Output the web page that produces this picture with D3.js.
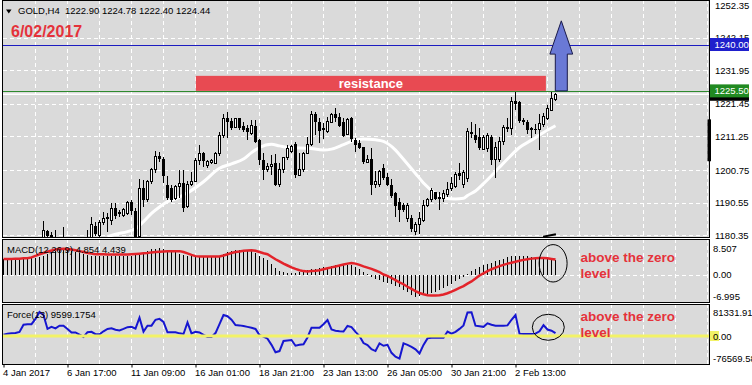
<!DOCTYPE html>
<html>
<head>
<meta charset="utf-8">
<script src="https://cdn.jsdelivr.net/npm/d3@7"></script>
<style>
  body { margin: 0; background: #fff; }
  svg { display: block; }
  text { font-family: "Liberation Sans", Arial, sans-serif; }
</style>
</head>
<body>
<div id="chart"></div>
<script>

// GOLD H4 candles (bar 0 = 4 Jan 2017 01:00)
const opens = [
  1158.5,1162.4,1164.1,1163.5,1166.6,1168.0,1171.8,1170.6,1174.1,1177.2,
  1178.0,1181.7,1180.45,1178.9,1177.3,1175.1,1177.9,1173.4,1175.5,1174.6,
  1172.3,1170.8,1177.6,1183.4,1180.2,1184.4,1185.6,1185.1,1188.8,1187.7,
  1186.5,1187.2,1190.7,1188.0,1179.9,1195.0,1191.4,1197.1,1200.8,1205.1,
  1204.2,1196.1,1195.2,1191.9,1195.6,1196.8,1189.3,1196.1,1197.1,1203.6,
  1206.0,1202.1,1203.1,1202.8,1206.0,1211.5,1216.9,1216.1,1214.0,1216.9,
  1214.6,1213.8,1212.2,1214.6,1210.1,1203.9,1200.8,1201.8,1202.8,1196.1,
  1200.8,1204.6,1206.5,1208.8,1199.2,1200.8,1206.0,1208.8,1218.2,1215.9,
  1213.3,1212.8,1215.7,1218.2,1217.4,1215.7,1211.9,1216.9,1210.1,1209.1,
  1207.8,1203.2,1204.2,1196.1,1196.1,1201.3,1198.7,1196.1,1193.5,1190.9,
  1189.8,1185.5,1185.9,1181.5,1183.6,1185.1,1189.6,1191.4,1193.8,1192.4,
  1191.7,1193.0,1195.0,1195.6,1199.7,1196.1,1198.2,1212.8,1211.7,1211.2,
  1207.3,1207.5,1211.2,1204.2,1204.2,1209.6,1213.6,1213.6,1222.3,1221.9,
  1216.4,1215.7,1213.8,1213.6,1213.3,1215.0,1216.9,1219.5,1222.9
];
const highs = [
  1163.0,1165.0,1165.8,1167.2,1168.9,1172.5,1173.4,1174.8,1179.7,1179.3,
  1184.8,1182.1,1181.5,1181.9,1179.1,1182.8,1179.0,1176.3,1177.8,1176.4,
  1174.1,1182.0,1186.0,1184.6,1185.1,1187.5,1187.2,1190.3,1190.3,1188.3,
  1188.8,1191.1,1191.4,1188.8,1198.0,1197.6,1197.6,1201.3,1206.8,1206.5,
  1204.9,1199.0,1196.1,1196.1,1200.8,1200.8,1197.3,1200.0,1204.4,1208.6,
  1206.5,1203.9,1204.2,1206.5,1212.8,1218.2,1219.0,1216.9,1217.1,1217.1,
  1215.9,1214.8,1216.4,1216.4,1210.6,1206.0,1202.8,1205.5,1205.7,1202.8,
  1204.9,1208.6,1208.6,1209.4,1206.0,1206.5,1211.2,1219.2,1219.0,1216.9,
  1215.4,1217.4,1218.5,1220.0,1218.5,1216.9,1217.1,1217.4,1210.7,1210.1,
  1208.0,1205.5,1207.5,1200.5,1200.8,1202.5,1199.7,1198.0,1194.0,1191.9,
  1190.3,1190.3,1186.7,1184.6,1187.7,1191.4,1191.9,1195.0,1194.0,1193.8,
  1194.5,1197.1,1198.7,1200.0,1202.8,1200.8,1214.0,1215.9,1215.0,1214.0,
  1211.7,1212.2,1211.7,1209.6,1211.2,1214.8,1217.1,1223.7,1225.3,1222.3,
  1216.9,1216.4,1214.3,1215.0,1218.2,1218.5,1221.1,1225.3,1224.78
];
const lows = [
  1157.8,1161.0,1162.5,1163.0,1165.2,1167.4,1169.9,1170.1,1173.6,1175.8,
  1177.2,1177.6,1177.0,1175.8,1174.2,1173.8,1172.6,1171.9,1173.7,1171.2,
  1169.6,1170.2,1176.8,1180.2,1179.8,1183.6,1181.5,1183.6,1185.6,1186.2,
  1186.2,1186.7,1186.7,1179.2,1179.4,1189.3,1190.9,1196.3,1199.7,1203.4,
  1196.6,1191.4,1190.9,1191.4,1191.9,1187.7,1188.8,1195.9,1196.9,1202.3,
  1201.8,1201.5,1202.5,1202.5,1205.2,1210.7,1210.7,1213.3,1213.8,1213.3,
  1212.8,1210.1,1211.7,1209.1,1202.3,1197.6,1200.2,1199.2,1195.8,1195.6,
  1199.7,1203.9,1206.0,1198.4,1199.0,1200.2,1205.7,1208.4,1211.7,1209.1,
  1210.5,1212.2,1215.4,1215.9,1214.3,1211.2,1211.7,1209.6,1206.5,1207.2,
  1202.5,1202.8,1193.0,1195.0,1195.6,1197.6,1195.9,1191.9,1186.2,1184.6,
  1187.7,1184.6,1181.5,1180.45,1180.7,1184.6,1189.3,1190.9,1191.4,1188.3,
  1190.9,1192.4,1194.2,1195.0,1197.6,1195.2,1197.1,1210.7,1209.1,1207.0,
  1207.0,1206.5,1202.3,1198.2,1203.2,1208.6,1212.8,1211.7,1219.5,1215.4,
  1214.8,1211.9,1210.9,1211.9,1207.0,1214.3,1216.4,1219.2,1222.4
];
const closes = [
  1162.4,1164.1,1163.5,1166.6,1168.0,1171.8,1170.6,1174.1,1177.2,1178.0,
  1181.7,1180.2,1179.4,1177.3,1175.1,1177.9,1173.4,1175.5,1174.6,1172.3,
  1170.8,1177.6,1183.6,1180.8,1184.4,1185.7,1186.0,1188.8,1186.5,1186.9,
  1188.3,1190.7,1188.0,1179.9,1195.0,1191.4,1197.1,1200.8,1204.9,1204.2,
  1199.0,1191.9,1191.4,1195.6,1196.5,1189.0,1196.1,1197.1,1203.6,1206.0,
  1203.6,1203.4,1203.6,1206.0,1211.5,1216.9,1215.9,1214.0,1216.9,1214.0,
  1213.3,1212.8,1214.6,1209.6,1203.9,1200.8,1202.0,1202.5,1196.1,1201.0,
  1204.6,1207.5,1208.1,1199.2,1200.8,1206.0,1208.6,1218.0,1215.7,1213.0,
  1213.6,1215.9,1218.0,1217.0,1214.6,1211.5,1216.7,1210.5,1208.6,1207.5,
  1203.2,1204.2,1196.1,1197.1,1200.2,1198.4,1196.1,1192.7,1189.6,1188.3,
  1188.3,1189.8,1182.3,1183.8,1185.6,1189.6,1191.4,1194.2,1191.7,1191.7,
  1193.5,1194.8,1196.6,1199.4,1199.0,1200.0,1212.8,1211.9,1210.1,1207.5,
  1210.9,1211.7,1203.9,1207.8,1209.6,1214.0,1214.0,1222.3,1221.3,1216.1,
  1215.7,1213.3,1213.3,1213.3,1215.4,1217.4,1220.0,1223.0,1224.44
];

// moving average (white line), sampled bars
const maBars   = [26, 28, 31, 33, 35, 37, 39, 41, 43, 45, 47, 50, 54, 57, 60, 62, 64, 67, 69, 72, 76, 80, 82, 85, 87, 90, 93, 95, 98, 100, 103, 105, 108, 110, 113, 115, 116, 118, 120, 124, 126, 129, 132, 135, 138];
const maValues = [1179.9, 1180.7, 1181.5, 1182.4, 1184.6, 1187.2, 1189.2, 1190.9, 1191.7, 1193.0, 1194.4, 1197.1, 1201.3, 1202.7, 1204.2, 1206.2, 1207.8, 1208.8, 1208.3, 1207.7, 1207.6, 1207.0, 1207.3, 1208.7, 1209.7, 1210.45, 1210.2, 1209.7, 1207.0, 1204.1, 1199.7, 1196.7, 1193.4, 1192.0, 1191.7, 1191.9, 1192.8, 1194.2, 1196.5, 1201.6, 1204.2, 1207.8, 1210.1, 1212.5, 1214.6];

// MACD(12,26,9): histogram (main) and signal
const macdMain = [
  5.1,5.1,5.2,5.2,5.2,5.3,5.3,5.4,5.5,5.6,
  6.0,6.6,7.2,7.7,8.1,8.3,8.0,7.6,7.2,6.9,
  6.6,6.3,6.1,6.0,6.0,6.0,6.0,5.9,5.9,6.0,
  6.0,6.1,6.2,6.4,6.8,7.3,7.8,8.2,8.4,8.507,
  8.3,8.0,7.6,7.2,6.8,6.4,6.1,5.9,5.8,5.7,
  5.6,5.6,5.7,5.8,6.0,6.6,7.2,7.6,7.9,8.0,
  8.1,8.0,7.6,7.0,6.2,5.4,4.6,3.4,2.2,1.2,
  0.8,0.6,0.6,0.7,0.9,1.2,1.5,1.8,2.0,2.2,
  2.4,2.6,2.8,3.0,3.2,3.3,3.2,3.0,2.5,1.8,
  1.0,0.2,-0.6,-1.2,-1.7,-2.2,-2.6,-3.0,-3.5,-4.0,
  -4.7,-5.5,-6.3,-6.995,-6.8,-6.5,-6.2,-5.9,-5.6,-5.0,
  -4.3,-3.5,-2.8,-2.0,-1.3,-0.6,0.3,1.2,1.8,2.4,
  3.0,3.5,3.9,4.4,4.8,5.2,5.6,5.9,6.1,6.1,
  6.0,5.9,5.8,5.6,5.4,5.3,5.2,5.0,4.854
];
const macdSignal = [
  5.1,5.1,5.1,5.2,5.2,5.3,5.3,5.6,6.1,6.6,
  7.0,7.4,7.8,8.1,8.3,8.4,8.3,8.1,7.9,7.6,
  7.3,7.0,6.8,6.6,6.6,6.6,6.5,6.5,6.5,6.5,
  6.5,6.5,6.6,6.7,6.8,6.9,7.0,7.2,7.3,7.4,
  7.5,7.6,7.6,7.6,7.6,7.3,6.9,6.4,6.0,5.9,
  5.9,5.9,5.9,5.9,5.9,6.2,6.6,7.0,7.3,7.5,
  7.7,7.8,7.9,7.7,7.3,6.9,6.6,5.8,5.0,4.3,
  3.6,3.0,2.4,1.9,1.5,1.2,1.1,1.2,1.3,1.5,
  1.8,2.1,2.4,2.7,3.0,3.3,3.6,3.8,3.6,3.2,
  2.7,2.3,1.9,1.4,0.9,0.1,-0.3,-1.0,-1.7,-2.4,
  -3.0,-3.8,-4.5,-5.2,-5.8,-6.2,-6.5,-6.6,-6.6,-6.5,
  -6.3,-5.9,-5.4,-4.8,-4.2,-3.6,-2.8,-2.1,-1.2,-0.2,
  0.5,1.2,1.8,2.3,2.8,3.2,3.6,3.9,4.2,4.5,
  4.8,5.0,5.2,5.3,5.4,5.4,5.3,5.1,4.9
];

// Force(13)
const forceValues = [
  4000,8000,9000,10000,14000,38000,40000,40000,58000,81331.91,
  71000,24000,31000,26000,35000,35000,24000,12000,12000,5000,
  -3000,13000,14000,6000,6000,16000,24000,26000,21000,19000,
  24000,30000,31000,25000,62000,15000,35000,35000,55000,58000,
  48000,12500,12500,12500,9000,6800,46000,9000,14000,12000,
  4000,-3000,-3000,10000,40000,71000,67000,55000,37000,36000,
  34000,31000,28000,24000,3000,-2000,-9000,-30000,-55000,-51000,
  -17000,-15000,-13500,-33000,-30000,-28000,-5000,28000,28000,28000,
  40000,54000,22000,18000,16000,15000,34000,30000,14000,0,
  -24000,-31000,-45000,-51000,-25000,-33000,-30000,-57000,-70000,-76569.58,
  -25000,-30000,-37000,-45000,-59000,-30000,-8000,-5700,-5700,-5700,
  -5700,15000,8000,14000,24000,36000,80000,80500,35000,33000,
  31000,43000,38000,35000,35000,35000,36000,55000,71000,8000,
  6800,6800,6800,8000,16000,37000,22000,18000,9599.1754
];

// axis ticks
const timeTicks  = [0, 16, 32, 48, 64, 80, 96, 112, 128];
const timeLabels = ["4 Jan 2017", "6 Jan 17:00", "11 Jan 09:00", "16 Jan 01:00", "18 Jan 21:00", "23 Jan 13:00", "26 Jan 05:00", "30 Jan 21:00", "2 Feb 13:00"];
const priceTicks = [1252.35, 1242.15, 1231.95, 1221.45, 1211.25, 1200.75, 1190.55, 1180.35];
const macdTicks  = [8.507, 0, -6.995];
const macdTickLabels = ["8.507", "0.00", "-6.995"];
const forceTicks = [81331.91, 0, -76569.58];
const forceTickLabels = ["81331.9100", "0.00", "-76569.5800"];

// drawn levels
const targetLevel = 1240.00;
const resistLevel = 1225.50;
const bidPrice = 1224.44;


const BG = "#dadada";
const FONT = "Liberation Sans, Arial, sans-serif";

const svg = d3.select("#chart").append("svg")
  .attr("width", 752)
  .attr("height", 385)
  .style("background", "#fff");

// one bar every 4 px
const x = d3.scaleLinear().domain([0, 1]).range([3.5, 7.5]);
const y = d3.scaleLinear().domain([1180.35, 1252.35]).range([235.3, 5]);
const yMacd = d3.scaleLinear().domain([-6.995, 8.507]).range([296.7, 248.3]);
const yForce = d3.scaleLinear().domain([-76569.58, 81331.91]).range([358.6, 312]);

const gridBars = d3.range(8, 177, 8);
const crisp = v => Math.round(v) + 0.5;

function makePanel(name, top, bottom) {
  svg.append("rect")
    .attr("x", 2.5).attr("y", top + 0.5)
    .attr("width", 707).attr("height", bottom - top)
    .attr("fill", BG);
  svg.append("clipPath").attr("id", "clip-" + name)
    .append("rect")
    .attr("x", 3).attr("y", top + 1)
    .attr("width", 706).attr("height", bottom - top - 1);
  const g = svg.append("g").attr("clip-path", `url(#clip-${name})`);
  g.selectAll("line.vgrid").data(gridBars).join("line")
    .attr("class", "vgrid")
    .attr("x1", d => x(d)).attr("x2", d => x(d))
    .attr("y1", top).attr("y2", bottom)
    .attr("stroke", "#fff")
    .attr("stroke-dasharray", "4,3");
  return g;
}

function frame(top, bottom) {
  svg.append("rect")
    .attr("x", 2.5).attr("y", top + 0.5)
    .attr("width", 707).attr("height", bottom - top)
    .attr("fill", "none")
    .attr("stroke", "#000");
}

// ---------- main price panel ----------
const gMain = makePanel("main", 0, 237);

gMain.selectAll("line.hgrid").data(priceTicks.slice(1)).join("line")
  .attr("class", "hgrid")
  .attr("x1", 3).attr("x2", 709)
  .attr("y1", d => crisp(y(d))).attr("y2", d => crisp(y(d)))
  .attr("stroke", "#fff")
  .attr("stroke-dasharray", "4,3");

gMain.append("line")
  .attr("x1", 3).attr("x2", 709)
  .attr("y1", crisp(y(targetLevel))).attr("y2", crisp(y(targetLevel)))
  .attr("stroke", "#1c1cc0");
gMain.append("line")
  .attr("x1", 3).attr("x2", 709)
  .attr("y1", crisp(y(resistLevel))).attr("y2", crisp(y(resistLevel)))
  .attr("stroke", "#2e8a2e");
gMain.append("line")
  .attr("x1", 3).attr("x2", 709)
  .attr("y1", y(bidPrice)).attr("y2", y(bidPrice))
  .attr("stroke", "#fff")
  .attr("stroke-width", 1.6);

// moving average
const maLine = d3.line()
  .x(d => x(d[0]))
  .y(d => y(d[1]))
  .curve(d3.curveMonotoneX);
gMain.append("path")
  .datum(maBars.map((b, k) => [b, maValues[k]]))
  .attr("d", maLine)
  .attr("fill", "none")
  .attr("stroke", "#fff")
  .attr("stroke-width", 3);

// candles
const bars = opens.map((o, i) => ({ i, o, h: highs[i], l: lows[i], c: closes[i] }));
const gCandles = gMain.append("g").attr("shape-rendering", "crispEdges");
gCandles.selectAll("line").data(bars).join("line")
  .attr("x1", d => x(d.i)).attr("x2", d => x(d.i))
  .attr("y1", d => y(d.h)).attr("y2", d => y(d.l))
  .attr("stroke", "#000");
gCandles.selectAll("rect").data(bars).join("rect")
  .attr("x", d => d.c >= d.o ? x(d.i) - 1 : x(d.i) - 1.5)
  .attr("width", d => d.c >= d.o ? 2 : 3)
  .attr("y", d => y(Math.max(d.o, d.c)))
  .attr("height", d => Math.max(1, y(Math.min(d.o, d.c)) - y(Math.max(d.o, d.c))))
  .attr("fill", d => d.c >= d.o ? "#fff" : "#000")
  .attr("stroke", d => d.c >= d.o ? "#000" : "none");

// short dark stroke at the bottom edge
gMain.append("line")
  .attr("x1", x(134.9)).attr("x2", x(138.1))
  .attr("y1", y(1179.9)).attr("y2", y(1180.7))
  .attr("stroke", "#000").attr("stroke-width", 2);

// resistance box
gMain.append("rect")
  .attr("x", x(48.1)).attr("y", y(1230.2))
  .attr("width", x(135.6) - x(48.1))
  .attr("height", y(resistLevel) - y(1230.2))
  .attr("fill", "#e84a52");
gMain.append("text")
  .attr("x", (x(48.1) + x(135.6)) / 2)
  .attr("y", y(resistLevel) - 3)
  .attr("text-anchor", "middle")
  .attr("font-size", 13).attr("font-weight", "bold")
  .attr("fill", "#fff")
  .text("resistance");

// up arrow
const arrowPts = [
  [137.95, resistLevel], [140.95, resistLevel], [140.95, 1237.0], [142.3, 1237.0],
  [139.45, 1247.4], [136.6, 1237.0], [137.95, 1237.0]
];
gMain.append("path")
  .attr("d", d3.line().x(d => x(d[0])).y(d => y(d[1]))(arrowPts) + "Z")
  .attr("fill", "#6a79d6")
  .attr("stroke", "#1a1a4a")
  .attr("stroke-width", 1);

frame(0, 237);

// title and date
svg.append("path")
  .attr("d", "M6,9.5 L11.5,9.5 L8.75,13.5 Z")
  .attr("fill", "#000");
svg.append("text")
  .attr("x", 18).attr("y", 14)
  .attr("font-size", 9.5).attr("fill", "#000")
  .attr("xml:space", "preserve")
  .text("GOLD,H4  1222.90 1224.78 1222.40 1224.44");
svg.append("text")
  .attr("x", 11).attr("y", 36.5)
  .attr("font-size", 16).attr("font-weight", "bold")
  .attr("fill", "#e5323a")
  .text("6/02/2017");

// price axis
svg.append("g")
  .attr("transform", "translate(709,0)")
  .attr("font-family", FONT)
  .call(d3.axisRight(y).tickValues(priceTicks).tickFormat(d3.format(".2f")).tickSize(0).tickPadding(6))
  .call(g => g.select(".domain").remove())
  .call(g => g.selectAll("text").attr("font-size", 9.5).attr("fill", "#000"));

svg.append("rect")
  .attr("x", 707.5).attr("y", y(1216.6))
  .attr("width", 3.5).attr("height", y(1203.5) - y(1216.6))
  .attr("fill", "#000");

// price tags on the axis
const tags = [
  { v: bidPrice, fill: "#000", label: "" },
  { v: resistLevel, fill: "#218a21", label: "1225.50" },
  { v: targetLevel, fill: "#1f1fcc", label: "1240.00" }
];
tags.forEach(t => {
  svg.append("rect")
    .attr("x", 710).attr("y", y(t.v) - 6.5)
    .attr("width", 39).attr("height", 13)
    .attr("fill", t.fill);
  svg.append("text")
    .attr("x", 714.5).attr("y", y(t.v)).attr("dy", "0.35em")
    .attr("font-size", 9.5).attr("fill", "#fff")
    .text(t.label);
});

// ---------- MACD panel ----------
const gMacd = makePanel("macd", 239, 302);
gMacd.append("line")
  .attr("x1", 3).attr("x2", 709)
  .attr("y1", crisp(yMacd(0))).attr("y2", crisp(yMacd(0)))
  .attr("stroke", "#fff").attr("stroke-dasharray", "4,3");
gMacd.append("g").selectAll("line").data(macdMain).join("line")
  .attr("x1", (d, i) => x(i)).attr("x2", (d, i) => x(i))
  .attr("y1", yMacd(0)).attr("y2", d => yMacd(d))
  .attr("stroke", "#000")
  .attr("shape-rendering", "crispEdges");
gMacd.append("path")
  .datum(macdSignal)
  .attr("d", d3.line().x((d, i) => x(i)).y(d => yMacd(d)))
  .attr("fill", "none")
  .attr("stroke", "#e3232a")
  .attr("stroke-width", 2.5);
gMacd.append("ellipse")
  .attr("cx", x(137.4)).attr("cy", yMacd(3.7))
  .attr("rx", 14).attr("ry", 18.7)
  .attr("fill", "none").attr("stroke", "#000");
svg.append("text")
  .attr("x", 7).attr("y", 252.5)
  .attr("font-size", 9.5).attr("fill", "#000")
  .text("MACD(12,26,9) 4.854 4.439");
frame(239, 302);

svg.append("g")
  .attr("transform", "translate(709,0)")
  .attr("font-family", FONT)
  .call(d3.axisRight(yMacd).tickValues(macdTicks).tickFormat((d, k) => macdTickLabels[k]).tickSize(0).tickPadding(4))
  .call(g => g.select(".domain").remove())
  .call(g => g.selectAll("text").attr("font-size", 9.5).attr("fill", "#000"));

// ---------- Force panel ----------
const gForce = makePanel("force", 304, 364);
gForce.append("path")
  .datum(forceValues)
  .attr("d", d3.line().x((d, i) => x(i)).y(d => yForce(d)))
  .attr("fill", "none")
  .attr("stroke", "#1616d0")
  .attr("stroke-width", 2);
gForce.append("line")
  .attr("x1", 3).attr("x2", 709)
  .attr("y1", yForce(0)).attr("y2", yForce(0))
  .attr("stroke", "#f2f266").attr("stroke-width", 3);
gForce.append("ellipse")
  .attr("cx", x(136.2)).attr("cy", yForce(29500))
  .attr("rx", 16).attr("ry", 13)
  .attr("fill", "none").attr("stroke", "#000");
svg.append("text")
  .attr("x", 7).attr("y", 317.5)
  .attr("font-size", 9.5).attr("fill", "#000")
  .text("Force(13) 9599.1754");
frame(304, 364);

svg.append("rect")
  .attr("x", 710).attr("y", yForce(0) - 5)
  .attr("width", 9).attr("height", 10)
  .attr("fill", "#f2f266");
svg.append("g")
  .attr("transform", "translate(709,0)")
  .attr("font-family", FONT)
  .call(d3.axisRight(yForce).tickValues(forceTicks).tickFormat((d, k) => forceTickLabels[k]).tickSize(0).tickPadding(4))
  .call(g => g.select(".domain").remove())
  .call(g => g.selectAll("text").attr("font-size", 9.5).attr("fill", "#000"));

// notes
const notes = [
  { text: "above the zero", y: 262 },
  { text: "level", y: 277.5 },
  { text: "above the zero", y: 321 },
  { text: "level", y: 336.5 }
];
svg.selectAll("text.note").data(notes).join("text")
  .attr("class", "note")
  .attr("x", 580.5).attr("y", d => d.y)
  .attr("font-size", 13.5).attr("font-weight", "bold")
  .attr("fill", "#e5323a")
  .text(d => d.text);

// ---------- time axis ----------
svg.append("g")
  .attr("transform", "translate(0,364.5)")
  .attr("font-family", FONT)
  .call(d3.axisBottom(x).tickValues(timeTicks).tickFormat((d, k) => timeLabels[k]).tickSize(3).tickPadding(2))
  .call(g => g.select(".domain").remove())
  .call(g => g.selectAll("text").attr("font-size", 9.5).attr("fill", "#000").attr("text-anchor", "start").attr("x", -1));

</script>
</body>
</html>
